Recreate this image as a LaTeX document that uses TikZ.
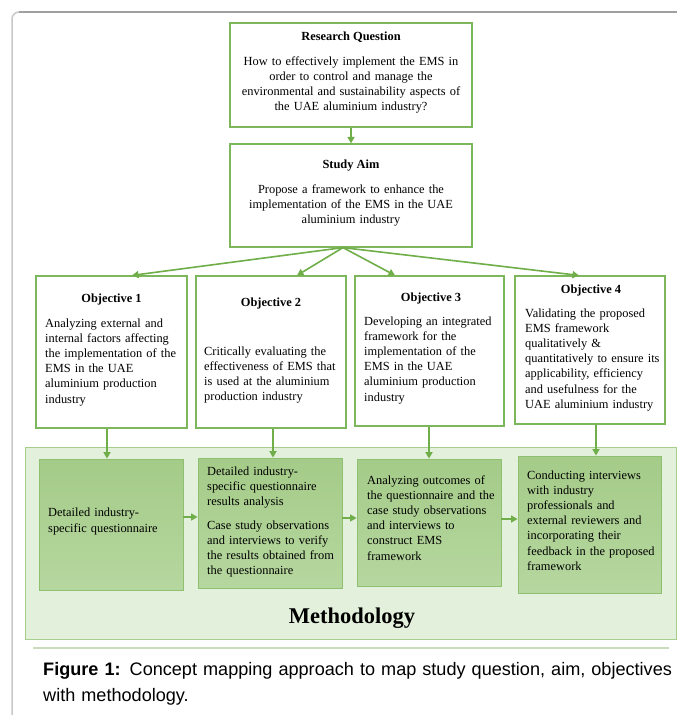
\documentclass[tikz,border=0pt]{standalone}
\usepackage{fontspec}
\setmainfont{Liberation Serif}
\newfontfamily\capfont{Liberation Sans}
\usetikzlibrary{arrows.meta}
\definecolor{boxgreen}{HTML}{7DB75B}
\definecolor{arrgreen}{HTML}{6FAE48}
\definecolor{methfill}{HTML}{E3F0DB}
\definecolor{methdraw}{HTML}{A7CF8C}
\definecolor{mdraw}{HTML}{8FC070}
\definecolor{mtop}{HTML}{A4CB88}
\definecolor{mbot}{HTML}{B6D79F}
\definecolor{frametop}{HTML}{A0A0A0}
\definecolor{frameleft}{HTML}{C8C8C8}
\definecolor{shadowline}{HTML}{CADCBE}
\newcommand\bodysize{\fontsize{12.4}{15.2}\selectfont}
\begin{document}
\begin{tikzpicture}[x=1pt,y=-1pt,
  box/.style 2 args={draw=boxgreen, line width=1.2pt, fill=white, inner sep=0pt, minimum width=#1, minimum height=#2},
  mbox/.style 2 args={draw=mdraw, line width=0.8pt, top color=mtop, bottom color=mbot, inner sep=0pt, minimum width=#1, minimum height=#2},
  ttl/.style={font=\bodysize\bfseries, anchor=base, inner sep=0pt},
  ctext/.style={font=\bodysize, anchor=base, inner sep=0pt, text width=240pt, align=center},
  ltext/.style={font=\bodysize, anchor=base west, inner sep=0pt, text width=165pt, align=left},
  arr/.style={draw=arrgreen, line width=1.6pt, -{Triangle[length=6.5pt,width=7pt]}},
]
\useasboundingbox (0,0) rectangle (677,715);
\fill[white] (0,0) rectangle (677,715);
% outer frame
\draw[frameleft, line width=1.5pt, rounded corners=7pt] (12,716) -- (12,12) -- (40,12);
\draw[frametop, line width=1.5pt] (19,12) -- (678,12);

% research question
\node[box={242pt}{104pt}] (rq) at (351,75) {};
\node[ttl] (rqt) at (351,40) {Research Question};
\node[ctext] (rqb) at (351,65) {How to effectively implement the EMS in\\ order to control and manage the\\ environmental and sustainability aspects of\\ the UAE aluminium industry?};

% study aim
\node[box={242pt}{103pt}] (sa) at (351,195.5) {};
\node[ttl] (sat) at (351,168) {Study Aim};
\node[ctext] (sab) at (351,193) {Propose a framework to enhance the\\ implementation of the EMS in the UAE\\ aluminium industry};

% objectives
\node[box={151pt}{152pt}] (o1) at (111.5,352) {};
\node[box={150pt}{152pt}] (o2) at (271,352) {};
\node[box={149pt}{150pt}] (o3) at (429.5,351) {};
\node[box={150pt}{148pt}] (o4) at (590,350) {};

\node[ttl] (o1t) at (111.5,302) {Objective 1};
\node[ltext] (o1b) at (45,327) {Analyzing external and\\ internal factors affecting\\ the implementation of the\\ EMS in the UAE\\ aluminium production\\ industry};
\node[ttl] (o2t) at (271,306) {Objective 2};
\node[ltext] (o2b) at (204,355) {Critically evaluating the\\ effectiveness of EMS that\\ is used at the aluminium\\ production industry};
\node[ttl] (o3t) at (431,301) {Objective 3};
\node[ltext] (o3b) at (364,325) {Developing an integrated\\ framework for the\\ implementation of the\\ EMS in the UAE\\ aluminium production\\ industry};
\node[ttl] (o4t) at (591,293) {Objective 4};
\node[ltext] (o4b) at (525,317) {Validating the proposed\\ EMS framework\\ qualitatively \&\\ quantitatively to ensure its\\ applicability, efficiency\\ and usefulness for the\\ UAE aluminium industry};

% methodology
\node[draw=methdraw, fill=methfill, line width=0.9pt, inner sep=0pt, minimum width=651pt, minimum height=192pt] (meth) at (350.5,543) {};
\draw[shadowline, line width=2.5pt] (33,648) -- (669,648);
\node[font=\fontsize{22.5}{26}\selectfont\bfseries, anchor=base, inner sep=0pt] (metht) at (352,623) {Methodology};

\node[mbox={144pt}{131pt}] (m1) at (111,524.5) {};
\node[mbox={144pt}{130pt}] (m2) at (270,523) {};
\node[mbox={144pt}{127pt}] (m3) at (429,522.5) {};
\node[mbox={143pt}{137pt}] (m4) at (589.5,524.5) {};

\node[ltext, font=\fontsize{12.4}{16.5}\selectfont] (m1b) at (48,516) {Detailed industry-\\ specific questionnaire};
\node[ltext] (m2b) at (207,475) {Detailed industry-\\ specific questionnaire\\ results analysis\\[8.5pt] Case study observations\\ and interviews to verify\\ the results obtained from\\ the questionnaire};
\node[ltext] (m3b) at (367,484) {Analyzing outcomes of\\ the questionnaire and the\\ case study observations\\ and interviews to\\ construct EMS\\ framework};
\node[ltext] (m4b) at (527,479) {Conducting interviews\\ with industry\\ professionals and\\ external reviewers and\\ incorporating their\\ feedback in the proposed\\ framework};

% arrows
\draw[arr] (rq.south) -- (sa.north);
\draw[arr] ([xshift=-8pt]sa.south) -- ([xshift=20.5pt]o1.north);
\draw[arr] ([xshift=-8pt]sa.south) -- ([xshift=26pt]o2.north);
\draw[arr] ([xshift=-8pt]sa.south) -- ([xshift=-34.5pt]o3.north);
\draw[arr] ([xshift=-8pt]sa.south) -- ([xshift=-11pt]o4.north);

\draw[arr] ([xshift=-4.5pt]o1.south) -- ([xshift=-4.5pt]o1.south |- m1.north);
\draw[arr] ([xshift=2pt]o2.south) -- ([xshift=2pt]o2.south |- m2.north);
\draw[arr] ([xshift=-0.5pt]o3.south) -- ([xshift=-0.5pt]o3.south |- m3.north);
\draw[arr] ([xshift=6pt]o4.south) -- ([xshift=6pt]o4.south |- m4.north);

\draw[arr, line width=1.2pt] (m1.east |- 0,517) -- (m2.west |- 0,517);
\draw[arr, line width=1.2pt] (m2.east |- 0,518) -- (m3.west |- 0,518);
\draw[arr, line width=1.2pt] (m3.east |- 0,519) -- (m4.west |- 0,519);

% caption
\node[font=\capfont\fontsize{18.1}{26}\selectfont, anchor=base west, inner sep=0pt, text width=700pt, align=left] (cap) at (43,675) {\textbf{Figure 1:} Concept mapping approach to map study question, aim, objectives\\ with methodology.};
\end{tikzpicture}
\end{document}
